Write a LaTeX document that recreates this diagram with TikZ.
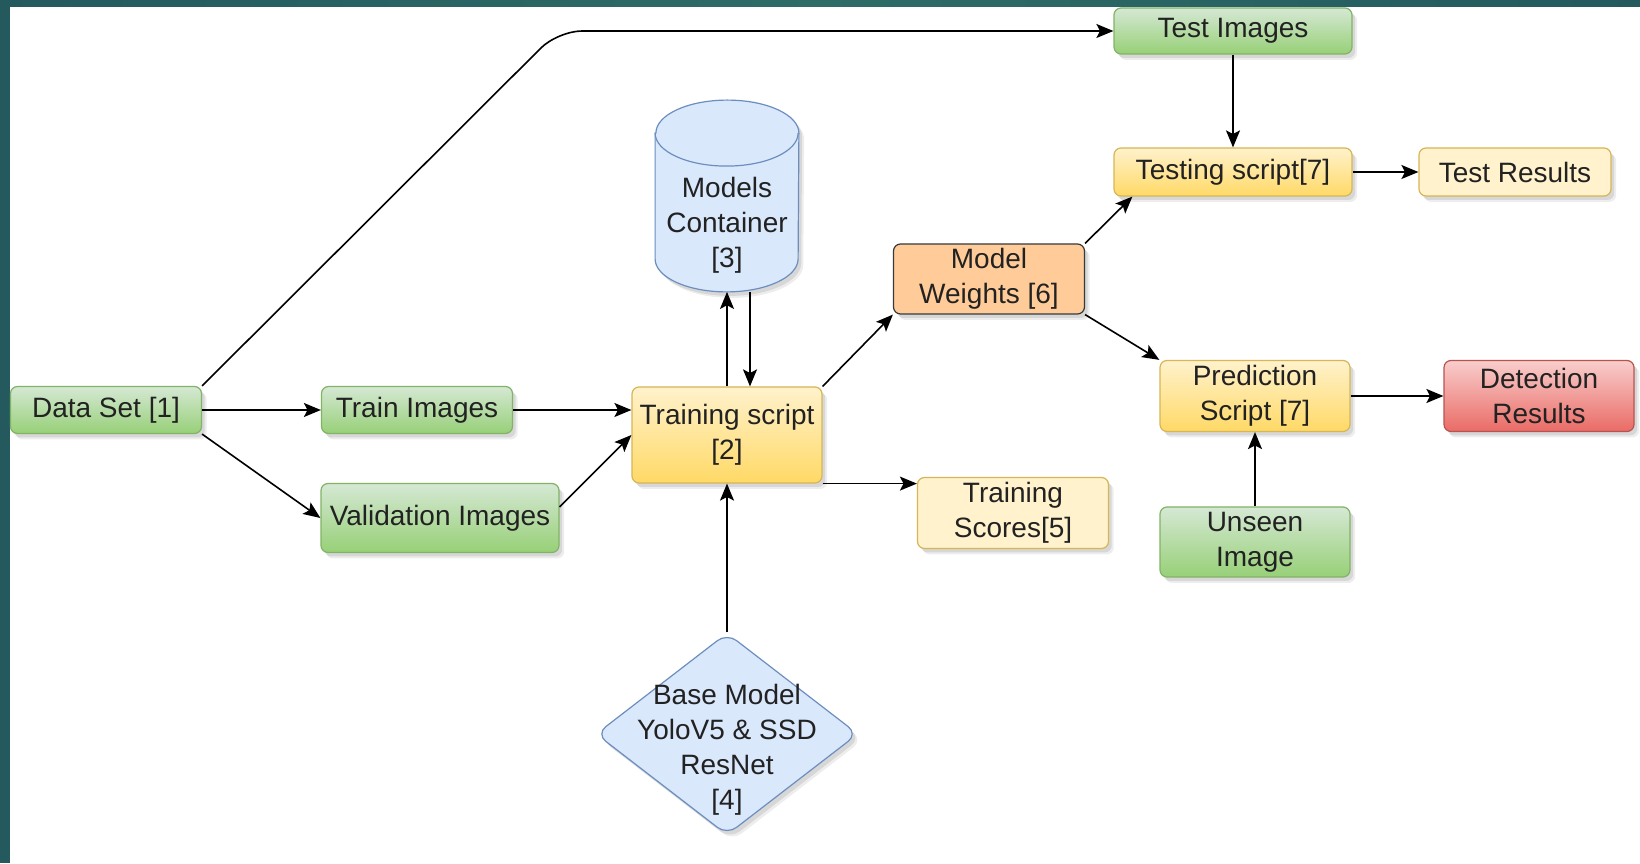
\documentclass[tikz,border=0pt]{standalone}
\usepackage{fontspec}
\setmainfont{Liberation Sans}
\usetikzlibrary{arrows.meta,shapes.geometric,calc}

\definecolor{frame}{HTML}{245A5E}
\definecolor{framelight}{HTML}{2E6C68}
\definecolor{txt}{HTML}{222222}
\definecolor{grntop}{HTML}{D5E8D4}
\definecolor{grnbot}{HTML}{97D077}
\definecolor{grnline}{HTML}{82B366}
\definecolor{yeltop}{HTML}{FFF2CC}
\definecolor{yelbot}{HTML}{FFD966}
\definecolor{yelline}{HTML}{D6B656}
\definecolor{orgfill}{HTML}{FFCC99}
\definecolor{orgline}{HTML}{36393D}
\definecolor{bluefill}{HTML}{DAE8FC}
\definecolor{blueline}{HTML}{6C8EBF}
\definecolor{redtop}{HTML}{F8CECC}
\definecolor{redbot}{HTML}{EA6B66}
\definecolor{redline}{HTML}{B85450}

\pgfdeclarelayer{bg}
\pgfsetlayers{bg,main}

\tikzset{
  softshadow/.style={
    preaction={draw=none, shade=false, fill=black, fill opacity=0.07,
      transform canvas={shift={(2.6pt,-3pt)}}},
    preaction={draw=none, shade=false, fill=black, fill opacity=0.09,
      transform canvas={shift={(1.6pt,-2pt)}}}},
  base/.style={rectangle, rounded corners=3.5pt, line width=0.6pt, inner sep=1pt,
      align=center, text=txt, font=\fontsize{14}{17.5}\selectfont, softshadow},
  sz/.style 2 args={minimum width=#1, minimum height=#2},
  greenbox/.style={base, draw=grnline, top color=grntop, bottom color=grnbot},
  yellowbox/.style={base, draw=yelline, top color=yeltop, bottom color=yelbot},
  paleybox/.style={base, draw=yelline, fill=yeltop},
  orangebox/.style={base, draw=orgline, fill=orgfill},
  redbox/.style={base, draw=redline, top color=redtop, bottom color=redbot},
  bluediamond/.style={diamond, draw=blueline, fill=bluefill, line width=0.6pt,
      rounded corners=6pt, inner sep=0pt, softshadow},
  plaintext/.style={align=center, text=txt, font=\fontsize{14}{17.5}\selectfont, inner sep=0pt},
  flow/.style={draw=black, line width=0.8pt, -{Stealth[length=8.5pt,width=7pt,inset=1.8pt]}},
}

\begin{document}
\begin{tikzpicture}[x=0.5pt, y=0.5pt]
  % page: white sheet with a teal frame on the left and top
  \begin{pgfonlayer}{bg}
    \fill[white] (0,0) rectangle (1640,863);
    \fill[frame] (0,0) rectangle (10,863);
    \shade[left color=frame, right color=frame, middle color=framelight] (0,856) rectangle (1640,863);
  \end{pgfonlayer}
  \useasboundingbox (0,0) rectangle (1640,863);

  % nodes
  \node[greenbox, sz={95.5pt}{23.5pt}] (ds) at (106,453) {Data Set [1]};
  \node[greenbox, sz={95.5pt}{23.5pt}] (tr) at (417,453) {Train Images};
  \node[greenbox, sz={119pt}{34.5pt}] (va) at (440,345) {Validation Images};
  \node[yellowbox, sz={95pt}{48pt}] (ts) at (727,428) {Training script\\{}[2]};
  \node[rectangle, sz={71.5pt}{95.5pt}, inner sep=0pt] (mc) at (727,667) {};
  \node[plaintext] (mctext) at (727,638) {Models\\Container\\{}[3]};
  \node[bluediamond, sz={131pt}{101pt}] (bm) at (727,129) {};
  \node[plaintext] (bmtext) at (727,113) {Base Model\\YoloV5 \& SSD\\ResNet\\{}[4]};
  \node[orangebox, sz={95.5pt}{35pt}] (mw) at (989,584) {Model\\Weights [6]};
  \node[paleybox, sz={95.5pt}{35.5pt}] (sc) at (1013,350) {Training\\Scores[5]};
  \node[greenbox, sz={119pt}{23pt}] (ti) at (1233,832) {Test Images};
  \node[yellowbox, sz={119pt}{24pt}] (tt) at (1233,691) {Testing script[7]};
  \node[paleybox, sz={96pt}{24pt}] (tres) at (1515,691) {Test Results};
  \node[yellowbox, sz={95pt}{35.5pt}] (ps) at (1255,467) {Prediction\\Script [7]};
  \node[redbox, sz={95pt}{35.5pt}] (dr) at (1539,467) {Detection\\Results};
  \node[greenbox, sz={95pt}{35pt}] (ui) at (1255,321) {Unseen\\Image};

  % models container drawn as a cylinder around its node
  \begin{pgfonlayer}{bg}
    \path[draw=blueline, fill=bluefill, line width=0.6pt, softshadow]
      ($(mc.north west)+(0,-16.5pt)$) -- ($(mc.south west)+(0,16.5pt)$)
      arc[start angle=180, end angle=360, x radius=35.75pt, y radius=16.5pt]
      -- ($(mc.north east)+(0,-16.5pt)$)
      arc[start angle=0, end angle=180, x radius=35.75pt, y radius=16.5pt] -- cycle;
    \draw[blueline, line width=0.6pt] ($(mc.north west)+(0,-16.5pt)$)
      arc[start angle=180, end angle=360, x radius=35.75pt, y radius=16.5pt];
  \end{pgfonlayer}

  % connectors
  \coordinate (bend) at (558,0);
  \draw[flow, rounded corners=12pt] (ds.north east) -- (bend |- ti.west) -- (ti.west);
  \draw[flow] (ds.east) -- (tr.west);
  \draw[flow] (ds.south east) -- (va.west);
  \draw[flow] (tr.east) -- (tr.east -| ts.west);
  \draw[flow] ([yshift=5.5pt]va.east) -- (ts.west);
  \draw[flow] (ts.north) -- (mc.south);
  \draw[flow] ([xshift=11.5pt]mc.south) -- ([xshift=11.5pt]ts.north);
  \draw[flow] (bm.north) -- (ts.south);
  \draw[flow] (ts.north east) -- (mw.south west);
  \draw[flow] (ts.south east) -- (ts.south east -| sc.west);
  \draw[flow] (mw.north east) -- ([xshift=9.5pt]tt.south west);
  \draw[flow] (mw.south east) -- (ps.north west);
  \draw[flow] (ti.south) -- (tt.north);
  \draw[flow] (tt.east) -- (tres.west);
  \draw[flow] (ps.east) -- (dr.west);
  \draw[flow] (ui.north) -- (ps.south);
\end{tikzpicture}
\end{document}
